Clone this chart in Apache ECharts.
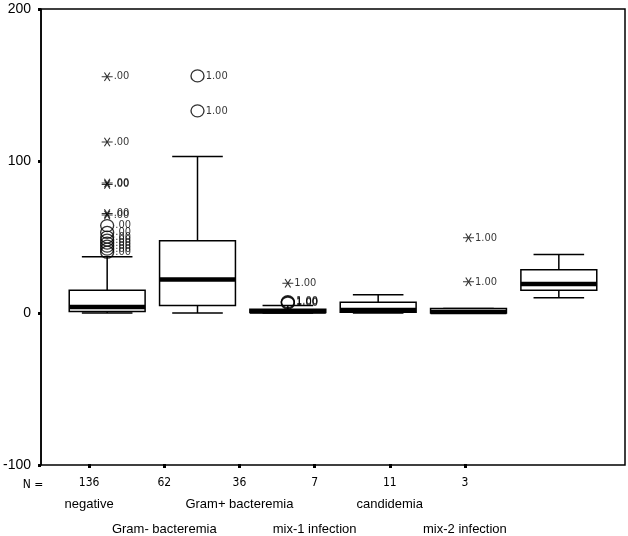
<!DOCTYPE html>
<html>
<head>
<meta charset="utf-8">
<script src="https://cdn.jsdelivr.net/npm/echarts@6/dist/echarts.min.js"></script>
<style>
  html, body { margin: 0; padding: 0; background: #fff; }
  #ChartDom { width: 628px; height: 536px; }
</style>
</head>
<body>
<div id="ChartDom"></div>
<script>
// groups and their counts
const categories = ["negative", "Gram- bacteremia", "Gram+ bacteremia", "mix-1 infection", "candidemia", "mix-2 infection"]
const nCounts = ["136", "62", "36", "7", "11", "3"]

// box statistics per group
const boxMin = [0, 0, 0, 0, 0, 10]
const boxQ1 = [1, 5, 0.3, 0.5, 0, 15]
const boxMedian = [4, 22, 1, 2, 0.6, 19]
const boxQ3 = [15, 47.5, 2.5, 7, 3, 28.5]
const boxMax = [37, 103, 5, 12, 3, 38.5]

// outliers (circles) and extremes (asterisks)
const circleCat = [0, 0, 0, 0, 0, 0, 0, 0, 1, 1, 2, 2, 2]
const circleVal = [40, 42, 44, 46, 48, 50, 53, 57.5, 156, 133, 6.5, 7, 7.5]
const starCat = [0, 0, 0, 0, 0, 0, 2, 4, 4]
const starVal = [155.5, 112.5, 85.5, 84.5, 65.5, 64.5, 19.5, 49.5, 20.5]
const caseLabels = [".00", "1.00", "1.00", "1.00", "1.00", "1.00"]

const yTicks = [-100, 0, 100, 200]

const textFont = "Liberation Sans"
const narrowFont = "'Liberation Sans Narrow', 'DejaVu Sans Condensed', 'Liberation Sans', sans-serif"

const starPath = "path://M-10 -1L10 -1L10 1L-10 1Z" +
  "M-4.134 -9.16L5.866 8.16L4.134 9.16L-5.866 -8.16Z" +
  "M5.866 -8.16L-4.134 9.16L-5.866 8.16L4.134 -9.16Z"

const chartDom = document.getElementById("ChartDom")
const myChart = echarts.init(chartDom, null, { renderer: "canvas" })

const boxData = categories.map((c, i) => [i, boxMin[i], boxQ1[i], boxMedian[i], boxQ3[i], boxMax[i]])

function renderBox(params, api) {
  const idx = api.value(0)
  const band = api.size([1, 0])[0]
  const half = band * 0.42
  const capHalf = band * 0.28
  const pMin = api.coord([idx, api.value(1)])
  const pQ1 = api.coord([idx, api.value(2)])
  const pMed = api.coord([idx, api.value(3)])
  const pQ3 = api.coord([idx, api.value(4)])
  const pMax = api.coord([idx, api.value(5)])
  const cx = pMin[0]
  const line = { stroke: "#000", lineWidth: 1.5 }
  return {
    type: "group",
    children: [
      { type: "line", shape: { x1: cx, y1: pQ3[1], x2: cx, y2: pMax[1] }, style: line },
      { type: "line", shape: { x1: cx, y1: pQ1[1], x2: cx, y2: pMin[1] }, style: line },
      { type: "line", shape: { x1: cx - capHalf, y1: pMax[1], x2: cx + capHalf, y2: pMax[1] }, style: line },
      { type: "line", shape: { x1: cx - capHalf, y1: pMin[1], x2: cx + capHalf, y2: pMin[1] }, style: line },
      {
        type: "rect",
        shape: { x: cx - half, y: pQ3[1], width: half * 2, height: Math.max(pQ1[1] - pQ3[1], 1) },
        style: { fill: "#fff", stroke: "#000", lineWidth: 1.5 },
      },
      { type: "line", shape: { x1: cx - half, y1: pMed[1], x2: cx + half, y2: pMed[1] }, style: { stroke: "#000", lineWidth: 4.5 } },
    ],
  }
}

const outlierLabel = {
  show: true,
  position: "right",
  distance: 1,
  color: "#000",
  fontFamily: narrowFont,
  fontSize: 11,
  formatter: (p) => caseLabels[p.value[0]],
}

myChart.setOption({
  animation: false,
  backgroundColor: "#fff",
  grid: [
    { left: 62, right: 24, top: 9, bottom: 71 },
    { left: 41, right: 3, top: 9, bottom: 71, show: true, borderColor: "#000", borderWidth: 1.5, backgroundColor: "transparent" },
    { left: 51.5, right: 125.5, top: 9, bottom: 71 },
  ],
  xAxis: [
    { type: "category", gridIndex: 0, data: categories, show: false },
    { type: "value", gridIndex: 1, show: false },
    {
      type: "category", gridIndex: 2, data: nCounts, position: "bottom",
      axisLine: { show: false, onZero: false },
      axisTick: { show: true, alignWithLabel: true, length: 4, lineStyle: { color: "#000", width: 3 } },
      axisLabel: { color: "#000", fontFamily: narrowFont, fontSize: 12, margin: 13 },
    },
    {
      type: "category", gridIndex: 2, data: categories, position: "bottom",
      axisLine: { show: false, onZero: false }, axisTick: { show: false },
      axisLabel: { color: "#000", fontFamily: textFont, fontSize: 13, margin: 34, interval: 0, formatter: (v, i) => (i % 2 === 0 ? v : "") },
    },
    {
      type: "category", gridIndex: 2, data: categories, position: "bottom",
      axisLine: { show: false, onZero: false }, axisTick: { show: false },
      axisLabel: { color: "#000", fontFamily: textFont, fontSize: 13, margin: 59, interval: 0, formatter: (v, i) => (i % 2 === 1 ? v : "") },
    },
  ],
  yAxis: [
    { type: "value", gridIndex: 0, min: -100, max: 200, show: false },
    {
      type: "value", gridIndex: 1, min: yTicks[0], max: yTicks[yTicks.length - 1], interval: 100,
      axisLine: { show: true, onZero: false, lineStyle: { color: "#000", width: 1.5 } },
      axisTick: { show: true, length: 3, lineStyle: { color: "#000", width: 3 } },
      axisLabel: { color: "#000", fontFamily: textFont, fontSize: 14, margin: 10 },
      splitLine: { show: false },
    },
    { type: "value", gridIndex: 2, show: false },
  ],
  graphic: [
    { type: "text", x: 33, y: 485, style: { text: "N =", align: "center", verticalAlign: "middle", fill: "#000", font: "12px " + narrowFont } },
  ],
  series: [
    {
      type: "custom", xAxisIndex: 0, yAxisIndex: 0,
      renderItem: renderBox,
      encode: { x: 0, y: [1, 2, 3, 4, 5] },
      data: boxData,
      z: 2,
    },
    {
      type: "scatter", xAxisIndex: 0, yAxisIndex: 0,
      symbol: "circle", symbolSize: [13, 12],
      itemStyle: { color: "transparent", borderColor: "#000", borderWidth: 1.3 },
      label: outlierLabel,
      data: circleCat.map((c, i) => [c, circleVal[i]]),
      z: 3,
    },
    {
      type: "scatter", xAxisIndex: 0, yAxisIndex: 0,
      symbol: starPath, symbolSize: [11, 9],
      itemStyle: { color: "#000" },
      label: outlierLabel,
      data: starCat.map((c, i) => [c, starVal[i]]),
      z: 3,
    },
  ],
})
</script>
</body>
</html>
